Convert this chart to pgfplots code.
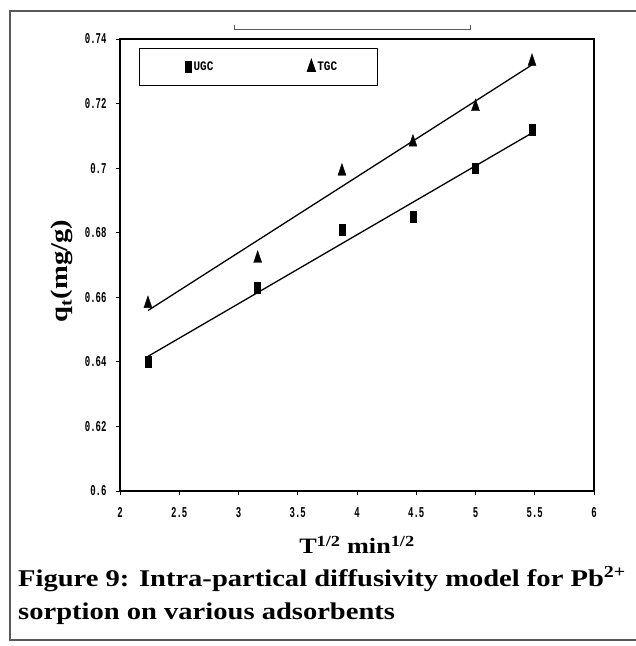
\documentclass[border=0pt]{standalone}
\usepackage{fontspec}
\setmainfont{Liberation Serif}
\newfontfamily\capfont[FakeStretch=1.19]{Liberation Serif}
\newfontfamily\tickfont[FakeStretch=0.6]{Liberation Mono}
\newfontfamily\legfont[FakeStretch=0.85]{Liberation Mono}
\usepackage{pgfplots}
\pgfplotsset{compat=1.18}
\begin{document}
\begin{tikzpicture}
\path[use as bounding box] (0,0) rectangle (636bp,-646bp);
% outer frame
\draw[gray!70!black, line width=1.2bp] (636bp,-11bp) -- (10bp,-11bp) -- (10bp,-640bp) -- (636bp,-640bp);
% top bracket
\draw[gray!70!black, line width=1bp] (234bp,-25bp) -- (234bp,-29bp) -- (470bp,-29bp) -- (470bp,-25bp);
\begin{axis}[
  at={(120bp,-491bp)}, anchor=south west,
  scale only axis, width=474bp, height=452bp,
  xmin=2, xmax=6, ymin=0.6, ymax=0.74,
  xtick={2,2.5,3,3.5,4,4.5,5,5.5,6},
  xticklabels={2,2.5,3,3.5,4,4.5,5,5.5,6},
  ytick={0.6,0.62,0.64,0.66,0.68,0.7,0.72,0.74},
  yticklabels={0.6,0.62,0.64,0.66,0.68,0.7,0.72,0.74},
  tick pos=left, tick align=outside,
  major tick length=4bp,
  axis line style={line width=1.3bp},
  every tick/.style={black, line width=0.8bp},
  ticklabel style={font=\tickfont\bfseries\fontsize{15bp}{15bp}\selectfont},
  xticklabel style={yshift=-9bp},
  yticklabel style={xshift=-6bp},
  xlabel={\capfont\bfseries T\textsuperscript{1/2} min\textsuperscript{1/2}},
  ylabel={\capfont\bfseries q\textsubscript{t}(mg/g)},
  xlabel style={at={(axis description cs:0.5,-0.119)}, anchor=center, font=\fontsize{22bp}{22bp}\selectfont},
  ylabel style={at={(axis description cs:-0.122,0.487)}, anchor=center, font=\fontsize{24bp}{24bp}\selectfont},
  legend columns=2,
  legend style={at={(0.0401,0.980)}, anchor=north west, draw=black, line width=1bp,
    inner xsep=46bp, inner ysep=11bp,
    font=\legfont\bfseries\fontsize{13bp}{13bp}\selectfont,
    /tikz/every even column/.append style={column sep=92bp}},
  legend cell align=left,
]
\addplot[only marks, mark=square*, mark size=3bp, mark options={yscale=1.8, fill=black, draw=black}]
  coordinates {(2.236,0.640) (3.162,0.663) (3.873,0.681) (4.472,0.685) (5.000,0.700) (5.477,0.712)};
\addlegendentry{UGC}
\addplot[only marks, mark=triangle*, mark size=4.6bp, mark options={yscale=1.7, fill=black, draw=black}]
  coordinates {(2.236,0.658) (3.162,0.672) (3.873,0.699) (4.472,0.708) (5.000,0.719) (5.477,0.733)};
\addlegendentry{TGC\hspace*{-8bp}}
\addplot[black, line width=1.3bp, forget plot] coordinates {(2.236,0.6417) (5.477,0.7109)};
\addplot[black, line width=1.3bp, forget plot] coordinates {(2.236,0.6559) (5.477,0.7320)};
\end{axis}
\node[anchor=base west, inner sep=0pt, font=\capfont\bfseries\fontsize{24bp}{24bp}\selectfont] at (18bp,-586bp) {Figure 9: Intra-partical diffusivity model for Pb\textsuperscript{2+}};
\node[anchor=base west, inner sep=0pt, font=\capfont\bfseries\fontsize{24bp}{24bp}\selectfont] at (18bp,-619bp) {sorption on various adsorbents};
\end{tikzpicture}
\end{document}
